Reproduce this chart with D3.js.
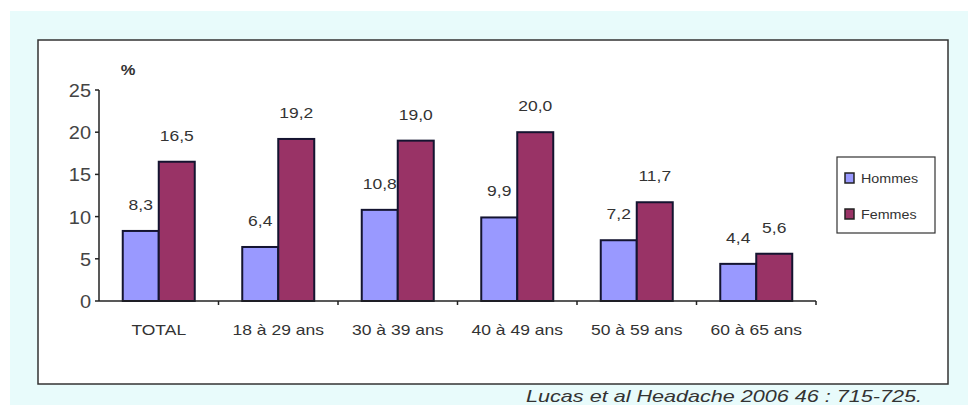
<!DOCTYPE html>
<html>
<head>
<meta charset="utf-8">
<script src="https://cdn.jsdelivr.net/npm/d3@7"></script>
<style>
  body { margin: 0; background: #fff; }
  text { font-family: "Liberation Sans", Arial, sans-serif; fill: #333; }
</style>
</head>
<body>
<div id="chart"></div>
<script>
// data
var categories = ["TOTAL", "18 à 29 ans", "30 à 39 ans", "40 à 49 ans", "50 à 59 ans", "60 à 65 ans"];
var hommes = [8.3, 6.4, 10.8, 9.9, 7.2, 4.4];
var femmes = [16.5, 19.2, 19.0, 20.0, 11.7, 5.6];
var seriesNames = ["Hommes", "Femmes"];
var seriesColors = ["#9999ff", "#993366"];
var yTicks = [0, 5, 10, 15, 20, 25];

var W = 968, H = 405;
var svg = d3.select("#chart").append("svg").attr("width", W).attr("height", H);

// backgrounds
svg.append("rect").attr("x", 10).attr("y", 11).attr("width", W - 10).attr("height", H - 11)
   .attr("fill", "#e8fbfb");
svg.append("rect").attr("x", 38).attr("y", 40).attr("width", 910).attr("height", 344)
   .attr("fill", "#fff").attr("stroke", "#333").attr("stroke-width", 1.5);

// text is wider than it is tall in the original (stretched image)
function wtext(g, x, y, str, size, anchor, sx) {
  return g.append("text")
    .attr("transform", "translate(" + x + "," + y + ") scale(" + (sx || 1.25) + ",1)")
    .attr("text-anchor", anchor || "middle")
    .style("font-size", size + "px")
    .text(str);
}

var x = d3.scaleBand().domain(categories).range([99, 816]);
var x1 = d3.scaleBand().domain(seriesNames).range([0, 72]);
var y = d3.scaleLinear().domain([0, 25]).range([301, 90]);

var g = svg.append("g");

// y axis
g.append("line").attr("x1", 99).attr("x2", 99).attr("y1", y(25)).attr("y2", y(0))
 .attr("stroke", "#222").attr("stroke-width", 1.5);
yTicks.forEach(function(t) {
  g.append("line").attr("x1", 95).attr("x2", 99).attr("y1", y(t)).attr("y2", y(t))
   .attr("stroke", "#222").attr("stroke-width", 1.5);
  wtext(g, 91, y(t) + 7, t, 19, "end", 1.05).style("fill", "#444");
});
wtext(g, 128, 75, "%", 15, "middle", 1.1).style("font-weight", "bold");

// bars
var groups = g.selectAll(".grp").data(categories).enter().append("g")
  .attr("transform", function(d) { return "translate(" + (x(d) + (x.bandwidth() - 72) / 2) + ",0)"; });

groups.each(function(c, i) {
  var gg = d3.select(this);
  var vals = [hommes[i], femmes[i]];
  vals.forEach(function(v, j) {
    gg.append("rect")
      .attr("x", x1(seriesNames[j]))
      .attr("y", y(v))
      .attr("width", x1.bandwidth())
      .attr("height", y(0) - y(v))
      .attr("fill", seriesColors[j])
      .attr("stroke", "#141430").attr("stroke-width", 2);
    wtext(gg, x1(seriesNames[j]) + x1.bandwidth() / 2, y(v) - 21, String(v.toFixed(1)).replace(".", ","), 14);
  });
});

// x axis
g.append("line").attr("x1", 99).attr("x2", 816).attr("y1", y(0)).attr("y2", y(0))
 .attr("stroke", "#222").attr("stroke-width", 1.5);
categories.forEach(function(c, i) {
  var xe = x(c) + x.bandwidth();
  g.append("line").attr("x1", xe).attr("x2", xe).attr("y1", y(0)).attr("y2", y(0) + 4)
   .attr("stroke", "#222").attr("stroke-width", 1.5);
  wtext(g, x(c) + x.bandwidth() / 2, 335, c, 14);
});

// legend
var lg = svg.append("g");
lg.append("rect").attr("x", 837).attr("y", 157).attr("width", 98).attr("height", 76)
  .attr("fill", "#fff").attr("stroke", "#333").attr("stroke-width", 1.2);
seriesNames.forEach(function(s, j) {
  var ly = 178 + j * 36;
  lg.append("rect").attr("x", 845).attr("y", ly - 5).attr("width", 9).attr("height", 10)
    .attr("fill", seriesColors[j]).attr("stroke", "#222").attr("stroke-width", 1.5);
  wtext(lg, 861, ly + 5, s, 13, "start", 1.1);
});

// source
svg.append("text")
  .attr("transform", "translate(922,402) scale(1.27,1)")
  .attr("text-anchor", "end")
  .style("font-size", "17px").style("font-style", "italic")
  .text("Lucas et al Headache 2006 46 : 715-725.");
</script>
</body>
</html>
